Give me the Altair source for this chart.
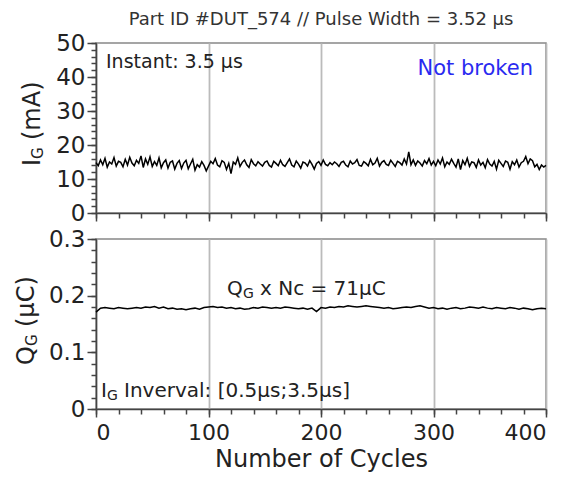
import altair as alt
import pandas as pd

# ---------------- data ----------------
ig_cycles = list(range(0, 401, 2))
ig_values = [
    14.8, 13.9, 15.6, 14.2, 16.1, 13.5, 15.0, 14.4, 16.3, 13.8, 15.2, 14.9, 13.6, 15.8, 14.1, 16.4, 14.7, 13.9, 15.5, 14.6,
    16.8, 13.4, 15.9, 14.3, 16.5, 13.7, 15.1, 14.0, 16.2, 13.3, 14.8, 15.6, 13.2, 14.9, 15.3, 12.9, 14.6, 15.4, 13.1, 14.7,
    15.5, 13.0, 14.4, 15.8, 12.6, 14.2, 13.5, 15.1, 14.0, 12.4, 13.8, 15.2, 14.5, 16.0, 14.1, 13.6, 15.4, 14.9, 12.8, 14.6,
    11.6, 15.0, 14.3, 16.2, 13.7, 14.9, 15.6, 14.2, 13.4, 15.7, 14.5, 13.9, 15.1, 14.4, 13.8, 14.9, 15.3, 14.0, 13.5, 15.2,
    14.6, 13.9, 15.5, 14.2, 13.7, 14.8, 15.9, 14.1, 13.6, 15.3, 14.4, 13.2, 15.0, 14.7, 13.8, 15.4, 14.3, 12.9, 14.6, 15.1,
    14.0, 15.6, 14.3, 13.9, 14.8, 14.2, 15.0, 14.5, 13.7, 14.9, 15.2, 14.1, 13.6, 15.3, 14.4, 14.8, 15.7, 14.0, 13.8, 15.1,
    14.6, 13.9, 15.8, 14.2, 14.7, 16.1, 13.8, 14.9, 15.4, 14.3, 14.0, 15.5, 14.6, 13.7, 15.2, 14.8, 14.1, 15.9, 14.4, 18.0,
    14.2, 15.6, 14.0, 15.3, 14.7, 13.8, 15.4, 14.5, 16.0, 14.1, 15.2, 13.9, 15.6, 14.4, 16.2, 13.6, 15.0, 14.3, 15.8, 14.6,
    13.5, 15.9, 12.8, 15.4, 14.2, 16.1, 13.7, 15.0, 14.8, 13.4, 15.6, 14.1, 14.9, 13.3, 15.7, 14.4, 13.8, 15.2, 12.9, 15.5,
    14.6, 13.7, 15.3, 14.9, 12.9, 15.1, 14.2, 15.6, 13.5, 14.8, 15.2, 16.6, 14.5, 15.9, 15.4, 13.6, 14.3, 12.8, 14.1, 13.5,
    14.0,
]

qg_cycles = list(range(0, 401, 4))
qg_values = [
    0.171, 0.178, 0.179, 0.178, 0.177, 0.179, 0.178, 0.177, 0.178, 0.179,
    0.178, 0.180, 0.179, 0.181, 0.178, 0.180, 0.177, 0.178, 0.176, 0.177,
    0.175, 0.177, 0.178, 0.176, 0.179, 0.180, 0.181, 0.179, 0.180, 0.178,
    0.179, 0.177, 0.178, 0.176, 0.177, 0.179, 0.178, 0.180, 0.179, 0.178,
    0.179, 0.178, 0.180, 0.179, 0.178, 0.177, 0.178, 0.176, 0.178, 0.172,
    0.179, 0.178, 0.180, 0.179, 0.181, 0.180, 0.182, 0.181, 0.180, 0.181,
    0.182, 0.181, 0.180, 0.179, 0.178, 0.179, 0.177, 0.178, 0.179, 0.180,
    0.179, 0.181, 0.182, 0.180, 0.178, 0.179, 0.177, 0.178, 0.176, 0.178,
    0.179, 0.177, 0.178, 0.180, 0.179, 0.178, 0.180, 0.178, 0.177, 0.179,
    0.178, 0.177, 0.179, 0.178, 0.176, 0.178, 0.177, 0.175, 0.177, 0.178,
    0.177,
]

x_major = [0, 100, 200, 300, 400]
x_minor = list(range(0, 401, 20))
ig_major = [0, 10, 20, 30, 40, 50]
ig_minor = list(range(0, 51, 2))
qg_major = [0, 0.1, 0.2, 0.3]
qg_minor = [round(i * 0.02, 2) for i in range(16)]

title_text = "Part ID #DUT_574 // Pulse Width = 3.52 µs"
x_title = "Number of Cycles"

FONT = "DejaVu Sans"
TXT = "#222222"
W = 450
H = 170

ig_df = pd.DataFrame({"cycle": ig_cycles, "val": ig_values})
qg_df = pd.DataFrame({"cycle": qg_cycles, "val": qg_values})

one = alt.Data(values=[{}])


def label(text, x, y, size=20, color=TXT, align="left", angle=0):
    kw = dict(text=text, fontSize=size, color=color, align=align,
              baseline="alphabetic", font=FONT)
    if angle:
        kw["angle"] = angle
    return alt.Chart(one).mark_text(**kw).encode(x=alt.value(x), y=alt.value(y))


def panel(df, ydom, ymaj, ymin, xlabels, label_expr, extras):
    xs = alt.Scale(domain=[0, 400], nice=False, zero=False)
    ys = alt.Scale(domain=ydom, nice=False)
    base = alt.Chart(df)
    minor = base.mark_line(opacity=0).encode(
        x=alt.X("cycle:Q", scale=xs, axis=alt.Axis(
            values=x_minor, labels=False, tickSize=5, domain=False, grid=False,
            title=None, orient="bottom", tickColor="#444", tickWidth=1.5)),
        y=alt.Y("val:Q", scale=ys, axis=alt.Axis(
            values=ymin, labels=False, tickSize=5, domain=False, grid=False,
            title=None, orient="left", tickColor="#444", tickWidth=1.5)),
    )
    xaxis = dict(values=x_major, labels=xlabels, tickSize=8, grid=True,
                 gridColor="#bbbbbb", gridWidth=1.8, orient="bottom",
                 domainColor="#444", domainWidth=1.5, tickColor="#444",
                 tickWidth=1.5, labelFontSize=22, labelColor=TXT, labelFont=FONT,
                 labelPadding=5)
    if xlabels:
        xaxis.update(title=x_title, titleFontSize=24, titleFont=FONT,
                     titleColor=TXT, titleFontWeight="normal", titlePadding=4)
    else:
        xaxis.update(title=None)
    main = base.mark_line(color="black", strokeWidth=1.5).encode(
        x=alt.X("cycle:Q", scale=xs, axis=alt.Axis(**xaxis)),
        y=alt.Y("val:Q", scale=ys, axis=alt.Axis(
            values=ymaj, tickSize=9, grid=False, title=None, orient="left",
            domainColor="#444", domainWidth=1.5, tickColor="#444", tickWidth=1.5,
            labelFontSize=23, labelColor=TXT, labelFont=FONT, labelPadding=2,
            labelExpr=label_expr)),
    )
    return alt.layer(minor, main, *extras).resolve_axis(
        x="independent", y="independent").properties(width=W, height=H)


top_extras = [
    label("Instant: 3.5 µs", 10, 25, size=19),
    label("Not broken", 437, 32, size=21, color="#2a2af0", align="right"),
    label("I", -56, 123, size=24, angle=270),
    label("G", -53, 116, size=15, angle=270),
    label("(mA)", -56, 97, size=24, angle=270),
]
bot_extras = [
    label("Q", 131, 56, size=20),
    label("G", 147, 59, size=14),
    label("x Nc = 71µC", 164, 56, size=20),
    label("I", 5, 158, size=20),
    label("G", 11, 161, size=14),
    label("Inverval: [0.5µs;3.5µs]", 28, 158, size=20),
    label("Q", -62, 126, size=24, angle=270),
    label("G", -59, 107, size=15, angle=270),
    label("(µC)", -62, 88, size=24, angle=270),
]

top = panel(ig_df, [0, 50], ig_major, ig_minor, False, "datum.label", top_extras).properties(
    title=alt.TitleParams(title_text, fontSize=18, font=FONT, color="#333333",
                          fontWeight="normal", anchor="middle", frame="group", offset=3))
bottom = panel(qg_df, [0, 0.3], qg_major, qg_minor, True,
               "datum.value == 0 ? '0' : format(datum.value, '.1f')", bot_extras)

chart = alt.vconcat(top, bottom, spacing=1).properties(
    padding={"left": 6, "top": 2, "right": 5, "bottom": 3}
).configure_view(stroke="#888888", strokeWidth=1.5)

chart.save("out.html", embed_options={"renderer": "svg", "actions": False})
